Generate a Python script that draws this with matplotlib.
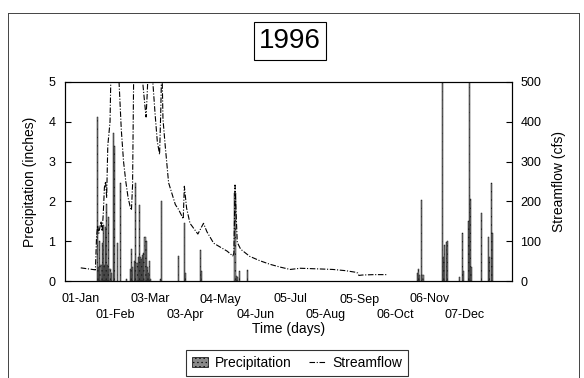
import numpy as np
import matplotlib
matplotlib.use('Agg')
import matplotlib.pyplot as plt
from matplotlib.patches import Patch
from matplotlib.lines import Line2D

plt.rcParams['font.family'] = ['Liberation Sans', 'DejaVu Sans']
plt.rcParams['hatch.linewidth'] = 0.4

# Giorni dal 1 gennaio 1996 e precipitazione giornaliera (pollici)
prec_day = np.array([15, 16, 17, 18, 19, 20, 21, 22, 23, 24, 25, 26, 27, 29, 30,
                     33, 35, 41,
                     44, 45, 46, 48, 49, 50, 51, 52, 53, 54, 55, 56, 57, 58, 59, 60, 61, 62,
                     71, 72, 87, 92, 93, 106, 107, 137, 138, 139, 141, 148,
                     299, 300, 301, 303, 304, 321, 322, 323, 325, 326,
                     336, 339, 340, 344, 345, 346, 347, 356, 362, 363, 365, 366])
prec = np.array([4.13, 0.35, 1.0, 0.4, 0.95, 1.4, 0.4, 1.35, 1.93, 0.4, 1.6, 0.3, 0.2, 3.73, 3.4,
                 0.95, 2.47, 0.05,
                 0.3, 0.8, 0.35, 0.5, 2.47, 0.45, 0.6, 1.9, 0.6, 0.55, 0.65, 0.7, 1.1, 1.0, 0.35, 0.2, 0.5, 0.05,
                 0.05, 2.0, 0.62, 1.45, 0.2, 0.77, 0.25, 2.2, 0.12, 0.1, 0.25, 0.28,
                 0.2, 0.3, 0.15, 2.03, 0.15, 6.0, 0.6, 0.9, 0.97, 1.0,
                 0.1, 1.2, 0.25, 1.5, 6.0, 2.05, 0.35, 1.71, 1.1, 0.6, 2.47, 1.2])

# Portata (cfs)
flow_day = np.array([0, 13, 14, 15, 16, 17, 18, 19, 20, 21, 22, 23, 24, 25, 26, 27, 28, 30, 32, 34,
                     36, 38, 40, 42, 44, 45, 46, 47, 49, 51, 53, 55, 57, 58, 59, 60, 62, 64, 66,
                     68, 70, 71, 72, 73, 75, 78, 84, 87, 90, 91, 92, 94, 97, 104, 109, 112, 118,
                     124, 130, 135, 136, 137, 139, 142, 150, 159, 168, 177, 186, 195, 205, 215,
                     224, 235, 244, 246, 247, 250, 260, 272])
flow = np.array([33, 28, 110, 140, 120, 135, 150, 125, 170, 235, 250, 210, 340, 370, 400, 560, 700, 650, 580, 500,
                 380, 300, 250, 210, 185, 178, 240, 520, 700, 620, 560, 500, 440, 412, 470, 540, 560, 500, 420,
                 350, 318, 420, 560, 407, 340, 247, 192, 179, 162, 156, 238, 183, 145, 118, 145, 124, 95,
                 85, 75, 63, 70, 241, 97, 80, 62, 51, 42, 35, 29, 32, 31, 30,
                 29, 26, 22, 20, 14, 15, 16, 16])

tick_pos = np.arange(0, 342, 31)
tick_lab = ['01-Jan', '01-Feb', '03-Mar', '03-Apr', '04-May', '04-Jun',
            '05-Jul', '05-Aug', '05-Sep', '06-Oct', '06-Nov', '07-Dec']

fig = plt.figure(figsize=(5.84, 3.78), dpi=100)
ax = fig.add_axes([65/584, 1-281/378, 447/584, 199/378])

ax.bar(prec_day, prec, width=1.0, facecolor='#8a8a8a', edgecolor='#1a1a1a',
       linewidth=0.35, hatch='....')
ax.set_xlim(-14, 383)
ax.set_ylim(0, 5)
ax.set_yticks(range(6))
# etichette alternate su due righe: maggiori sopra, minori sotto
ax.set_xticks(tick_pos[0::2])
ax.set_xticklabels(tick_lab[0::2])
ax.set_xticks(tick_pos[1::2], minor=True)
ax.set_xticklabels(tick_lab[1::2], minor=True)
ax.tick_params(axis='x', which='major', length=0, pad=9, labelsize=9)
ax.tick_params(axis='x', which='minor', length=0, pad=20, labelsize=9)
ax.tick_params(axis='y', direction='in', length=4, pad=7, labelsize=9)
ax.set_ylabel('Precipitation (inches)', fontsize=10, labelpad=8)
ax.set_xlabel('Time (days)', fontsize=10, labelpad=1)

ax2 = ax.twinx()
ax2.plot(flow_day, flow, color='black', linewidth=0.8, linestyle=(0, (5, 1.5, 1, 1.5)))
ax2.set_ylim(0, 500)
ax2.set_yticks(range(0, 501, 100))
ax2.tick_params(axis='y', direction='in', length=4, pad=6, labelsize=9)
ax2.set_ylabel('Streamflow (cfs)', fontsize=10, labelpad=8)

for a in (ax, ax2):
    for s in a.spines.values():
        s.set_linewidth(0.8)

# titolo in riquadro
fig.text(290/584, 1-41/378, '1996', fontsize=20, ha='center', va='center',
         bbox=dict(boxstyle='square,pad=0.2', facecolor='white', edgecolor='black', linewidth=0.8))

# legenda in basso
handles = [Patch(facecolor='#8a8a8a', edgecolor='black', linewidth=0.5, hatch='....'),
           Line2D([0], [0], color='black', linewidth=0.8, linestyle=(0, (5, 1.5, 1, 1.5)))]
leg = fig.legend(handles, ['Precipitation', 'Streamflow'], loc='center',
                 bbox_to_anchor=(297/584, 1-363/378), ncol=2, fontsize=10,
                 frameon=True, fancybox=False, handlelength=1.2, columnspacing=1.2,
                 borderpad=0.4, handletextpad=0.5)
leg.get_frame().set_edgecolor('black')
leg.get_frame().set_linewidth(0.8)

# cornice esterna
fr = dict(color='#444444', linewidth=0.7, transform=fig.transFigure)
fig.add_artist(Line2D([8/584, 579/584], [1-13/378, 1-13/378], **fr))
fig.add_artist(Line2D([8/584, 8/584], [1-13/378, 0], **fr))
fig.add_artist(Line2D([579/584, 579/584], [1-13/378, 0], **fr))

fig.savefig('out.png', dpi=100)
